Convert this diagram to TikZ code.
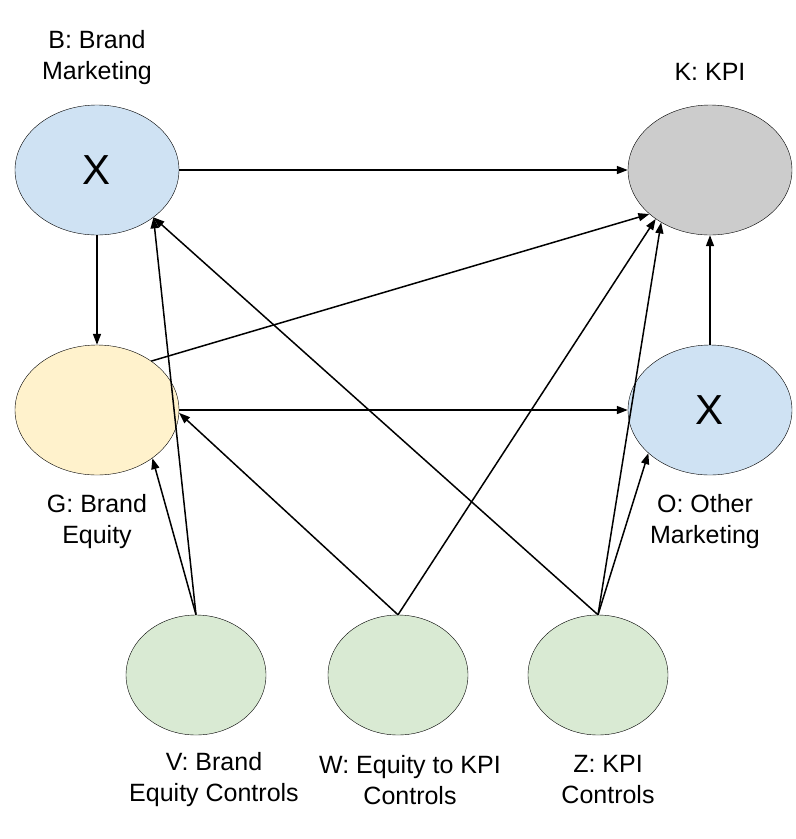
\documentclass[tikz,border=0pt]{standalone}
\usepackage{fontspec}
\setmainfont{Liberation Sans}
\usetikzlibrary{arrows.meta,shapes.geometric}
\tikzset{
  blob/.style={draw,ellipse,minimum width=164pt,minimum height=130pt,inner sep=0pt},
  ctrl/.style={draw,ellipse,minimum width=140pt,minimum height=120pt,inner sep=0pt,fill=ctrlgreen},
  lbl/.style={align=center,font=\fontsize{25}{31}\selectfont},
  link/.style={-{Triangle[length=11pt,width=8pt]},line width=1.5pt}
}
\definecolor{mktblue}{HTML}{CFE2F3}
\definecolor{kpigray}{HTML}{CCCCCC}
\definecolor{eqyellow}{HTML}{FFF2CC}
\definecolor{ctrlgreen}{HTML}{D9EAD3}
\begin{document}
\begin{tikzpicture}[x=1pt,y=-1pt]
\useasboundingbox (0,0) rectangle (796,839);
\node[blob,fill=mktblue,font=\fontsize{42}{42}\selectfont] (b) at (97,170) {X};
\node[blob,fill=kpigray] (k) at (710,170) {};
\node[blob,fill=eqyellow] (g) at (97,410) {};
\node[blob,fill=mktblue,font=\fontsize{42}{42}\selectfont] (o) at (710,410) {X};
\node[ctrl] (v) at (196,675) {};
\node[ctrl] (w) at (398,675) {};
\node[ctrl] (z) at (598,675) {};

\node[lbl] (bl) at (97,58) {B: Brand\\Marketing};
\node[lbl] (kl) at (710,72) {K: KPI};
\node[lbl] (gl) at (97,522) {G: Brand\\Equity};
\node[lbl] (ol) at (705,522) {O: Other\\Marketing};
\node[lbl] (vl) at (214,780) {V: Brand\\Equity Controls};
\node[lbl] (wl) at (410,780) {W: Equity to KPI\\Controls};
\node[lbl] (zl) at (608,780) {Z: KPI\\Controls};

\draw[link] (b) -- (k);
\draw[link] (b) -- (g);
\draw[link] (g.42) -- (k.-144);
\draw[link] (g) -- (o);
\draw[link] (o) -- (k);
\draw[link] (v.north) -- (g.-41);
\draw[link] (v.north) -- (b.-40);
\draw[link] (w.north) -- (g.-2);
\draw[link] (w.north) -- (k.-138);
\draw[link] (z.north) -- (b.-40);
\draw[link] (z.north) -- (k.-133);
\draw[link] (z.north) -- (o.-145);
\end{tikzpicture}
\end{document}
